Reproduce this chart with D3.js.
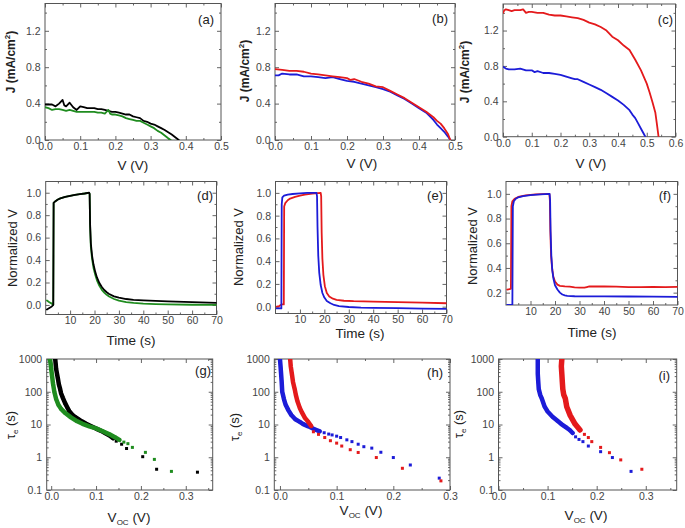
<!DOCTYPE html>
<html><head><meta charset="utf-8">
<script src="https://cdn.jsdelivr.net/npm/d3@7"></script>
<style>body{margin:0;background:#fff}svg{display:block}</style>
</head><body><svg id="c" width="685" height="528"></svg>
<script>
// ---------- DATA ----------
// (a) J-V
const aBlack = [[0,0.39],[0.01,0.39],[0.02,0.39],[0.03,0.37],[0.04,0.40],[0.05,0.44],[0.055,0.38],[0.06,0.37],[0.07,0.41],[0.08,0.36],[0.09,0.33],[0.1,0.37],[0.11,0.36],[0.12,0.35],[0.13,0.35],[0.14,0.35],[0.15,0.34],[0.16,0.34],[0.17,0.33],[0.18,0.32],[0.19,0.31],[0.2,0.31],[0.21,0.30],[0.22,0.29],[0.23,0.28],[0.24,0.28],[0.25,0.26],[0.26,0.25],[0.27,0.24],[0.28,0.21],[0.29,0.20],[0.3,0.18],[0.31,0.17],[0.32,0.15],[0.33,0.13],[0.34,0.11],[0.35,0.085],[0.36,0.06],[0.37,0.03],[0.38,0.0]];
const aGreen = [[0,0.36],[0.01,0.35],[0.02,0.33],[0.03,0.34],[0.04,0.34],[0.05,0.33],[0.06,0.32],[0.07,0.33],[0.08,0.32],[0.09,0.31],[0.1,0.31],[0.11,0.31],[0.12,0.31],[0.13,0.31],[0.14,0.31],[0.15,0.30],[0.16,0.30],[0.17,0.29],[0.18,0.33],[0.185,0.29],[0.19,0.28],[0.2,0.28],[0.21,0.27],[0.22,0.26],[0.23,0.24],[0.24,0.23],[0.25,0.22],[0.26,0.21],[0.27,0.21],[0.28,0.19],[0.29,0.17],[0.3,0.15],[0.31,0.13],[0.32,0.10],[0.33,0.08],[0.34,0.05],[0.35,0.02],[0.357,0.0]];
// (b) J-V
const bRed = [[0,0.78],[0.02,0.77],[0.04,0.76],[0.06,0.76],[0.08,0.75],[0.1,0.73],[0.12,0.72],[0.14,0.71],[0.16,0.70],[0.18,0.69],[0.2,0.68],[0.21,0.66],[0.22,0.67],[0.24,0.64],[0.26,0.62],[0.28,0.59],[0.3,0.58],[0.32,0.54],[0.34,0.50],[0.36,0.46],[0.38,0.41],[0.4,0.36],[0.42,0.31],[0.44,0.25],[0.45,0.21],[0.46,0.18],[0.47,0.13],[0.48,0.07],[0.487,0.0]];
const bBlue = [[0,0.71],[0.01,0.71],[0.02,0.73],[0.04,0.72],[0.06,0.72],[0.08,0.70],[0.1,0.70],[0.12,0.69],[0.14,0.68],[0.16,0.69],[0.18,0.67],[0.2,0.65],[0.22,0.64],[0.24,0.62],[0.26,0.60],[0.28,0.58],[0.3,0.56],[0.32,0.53],[0.34,0.49],[0.36,0.45],[0.38,0.40],[0.4,0.35],[0.42,0.30],[0.44,0.22],[0.45,0.17],[0.46,0.13],[0.47,0.09],[0.48,0.04],[0.487,0.0]];
// (c) J-V
const cRed = [[0,1.40],[0.005,1.43],[0.01,1.44],[0.02,1.43],[0.03,1.42],[0.04,1.43],[0.05,1.43],[0.06,1.43],[0.07,1.44],[0.08,1.40],[0.09,1.41],[0.1,1.41],[0.12,1.40],[0.14,1.40],[0.16,1.38],[0.18,1.37],[0.2,1.37],[0.22,1.36],[0.24,1.35],[0.26,1.34],[0.28,1.32],[0.3,1.29],[0.32,1.27],[0.34,1.24],[0.36,1.20],[0.38,1.13],[0.4,1.09],[0.42,1.03],[0.44,0.98],[0.46,0.87],[0.48,0.75],[0.5,0.60],[0.51,0.50],[0.52,0.39],[0.53,0.27],[0.535,0.15],[0.541,0.0]];
const cBlue = [[0,0.79],[0.01,0.77],[0.02,0.76],[0.04,0.76],[0.06,0.77],[0.08,0.75],[0.1,0.75],[0.11,0.73],[0.12,0.74],[0.14,0.72],[0.16,0.72],[0.18,0.71],[0.2,0.70],[0.22,0.68],[0.24,0.66],[0.25,0.65],[0.26,0.65],[0.28,0.62],[0.3,0.59],[0.32,0.56],[0.34,0.53],[0.36,0.49],[0.38,0.45],[0.4,0.41],[0.42,0.36],[0.44,0.30],[0.45,0.25],[0.46,0.21],[0.47,0.15],[0.48,0.09],[0.49,0.03],[0.495,0.0]];
// (d) transients
const dGreen = [[0.5,0.04],[1.5,0.025],[2.5,0.012],[2.9,0.004],[3.1,0.0],[3.25,0.91],[4,0.925],[5,0.94],[6,0.95],[8,0.963],[10,0.972],[12,0.98],[14,0.987],[16,0.993],[17.8,0.998],[18.0,0.99],[18.2,0.7],[18.5,0.52],[19.0,0.41],[19.6,0.33],[20.3,0.27],[21,0.22],[22,0.17],[23,0.135],[24,0.11],[25,0.09],[26,0.075],[28,0.053],[30,0.038],[33,0.026],[36,0.018],[40,0.012],[45,0.008],[50,0.005],[60,0.002],[70,0.0]];
const dBlack = [[0.5,-0.04],[1.5,-0.027],[2.5,-0.014],[2.9,-0.004],[3.1,0.0],[3.25,0.91],[4,0.925],[5,0.94],[6,0.95],[8,0.963],[10,0.972],[12,0.98],[14,0.987],[16,0.993],[17.8,1.0],[18.0,0.99],[18.2,0.72],[18.5,0.55],[19.0,0.44],[19.6,0.36],[20.3,0.295],[21,0.245],[22,0.195],[23,0.16],[24,0.133],[25,0.113],[26,0.098],[28,0.077],[30,0.065],[33,0.053],[36,0.046],[40,0.041],[45,0.036],[50,0.032],[60,0.025],[70,0.018]];
// (e) transients
const eRed = [[0.5,0.0],[1.5,0.005],[2.5,0.02],[3.4,0.02],[3.55,0.88],[4,0.91],[5,0.935],[6,0.95],[8,0.965],[10,0.975],[12,0.985],[15,0.993],[18.5,1.0],[18.7,0.97],[18.9,0.65],[19.2,0.42],[19.6,0.28],[20.2,0.18],[21,0.12],[22,0.09],[23.5,0.07],[25,0.06],[28,0.052],[32,0.048],[40,0.044],[50,0.04],[60,0.035],[70,0.03]];
const eBlue = [[0.5,-0.015],[1.5,-0.015],[2.4,-0.015],[2.55,0.9],[2.8,0.96],[3.5,0.975],[5,0.985],[7,0.99],[10,0.995],[13,1.0],[16.8,1.0],[17.0,0.97],[17.2,0.7],[17.5,0.45],[17.9,0.3],[18.5,0.19],[19.2,0.12],[20,0.08],[21,0.05],[22.5,0.03],[24,0.015],[26,0.005],[30,-0.003],[35,-0.008],[40,-0.01],[50,-0.013],[60,-0.017],[70,-0.02]];
// (f) transients
const fRed = [[0.5,0.225],[1.5,0.228],[2.0,0.232],[2.2,0.9],[2.6,0.94],[3.5,0.96],[5,0.975],[8,0.988],[12,0.995],[17.7,1.0],[17.9,0.95],[18.1,0.7],[18.4,0.5],[18.8,0.4],[19.3,0.33],[20,0.29],[21,0.265],[22,0.255],[24,0.25],[26,0.248],[28,0.243],[30,0.24],[32,0.24],[33,0.245],[34,0.25],[36,0.25],[40,0.25],[45,0.248],[50,0.245],[55,0.245],[60,0.246],[65,0.244],[70,0.247]];
const fBlue = [[0.5,0.1],[2.6,0.1],[2.8,0.9],[3.2,0.94],[4,0.96],[5,0.972],[7,0.982],[10,0.99],[14,0.995],[17.8,1.0],[18.0,0.95],[18.2,0.7],[18.5,0.5],[18.9,0.38],[19.4,0.31],[20,0.26],[21,0.225],[22,0.2],[23,0.185],[24,0.178],[25,0.174],[28,0.171],[30,0.17],[35,0.17],[40,0.17],[50,0.169],[60,0.168],[70,0.165]];
// (g) lifetime vs Voc
const gBlackDense = [[0.009,1000],[0.010,700],[0.011,500],[0.013,350],[0.015,250],[0.017,170],[0.02,120],[0.022,90],[0.026,65],[0.031,45],[0.036,33],[0.04,26],[0.047,20],[0.053,17],[0.059,15],[0.068,12.5],[0.078,10.5],[0.088,9.0],[0.1,7.5],[0.11,6.5],[0.12,5.5],[0.13,4.6],[0.138,3.8]];
const gBlackSparse = [[0.145,3.1],[0.157,2.5],[0.168,1.85],[0.204,1.04],[0.235,0.43],[0.326,0.35]];
const gGreenDense = [[-0.003,1000],[-0.001,700],[0.0,500],[0.002,300],[0.004,180],[0.007,100],[0.011,60],[0.016,40],[0.022,30],[0.032,22],[0.044,16.5],[0.058,12.5],[0.07,10.5],[0.085,8.8],[0.1,7.6],[0.115,6.2],[0.13,5.0],[0.142,4.1],[0.152,3.4]];
const gGreenSparse = [[0.162,2.9],[0.171,2.6],[0.181,2.0],[0.21,1.41],[0.23,0.86],[0.268,0.37]];
// (h)
const hBlueDense = [[0.0,1000],[0.001,600],[0.002,350],[0.003,200],[0.004,100],[0.007,60],[0.01,40],[0.015,27],[0.02,19.5],[0.027,14.5],[0.035,12],[0.041,10.3],[0.05,8.8],[0.06,7.3],[0.07,6.2]];
const hBlueSparse = [[0.078,5.6],[0.086,5.1],[0.092,4.8],[0.1,4.4],[0.107,4.0],[0.118,3.4],[0.127,3.0],[0.138,2.5],[0.148,2.1],[0.162,1.9],[0.178,1.42],[0.2,0.98],[0.23,0.58],[0.281,0.23]];
const hRedDense = [[0.018,1000],[0.019,600],[0.021,350],[0.023,200],[0.026,120],[0.028,80],[0.031,50],[0.035,32],[0.039,23],[0.044,16],[0.05,12],[0.055,9]];
const hRedSparse = [[0.059,6.0],[0.068,5.0],[0.079,4.0],[0.089,3.2],[0.1,2.7],[0.109,2.2],[0.124,1.7],[0.138,1.4],[0.17,0.98],[0.216,0.46],[0.284,0.19]];
// (i)
const iBlueDense = [[0.08,1000],[0.08,600],[0.08,350],[0.081,200],[0.082,120],[0.085,80],[0.088,63],[0.094,35],[0.1,25],[0.11,17.3],[0.12,13],[0.128,10.3],[0.137,8.3],[0.145,6.8],[0.151,5.5]];
const iBlueSparse = [[0.157,4.2],[0.164,3.5],[0.172,3.0],[0.183,2.2],[0.208,1.48],[0.232,0.98],[0.27,0.37]];
const iRedDense = [[0.129,1000],[0.128,600],[0.129,350],[0.13,200],[0.131,120],[0.133,80],[0.136,63],[0.139,35],[0.146,19],[0.156,10.3],[0.166,6.8]];
const iRedSparse = [[0.175,5.0],[0.183,4.0],[0.19,3.0],[0.208,2.0],[0.226,1.38],[0.249,0.83],[0.292,0.43]];

// tick labels
const jvYTicks = [0, 0.4, 0.8, 1.2];
const jvYMinor = [0.2, 0.6, 1.0, 1.4];
const jvXTicks5 = [0, 0.1, 0.2, 0.3, 0.4, 0.5];
const jvXTicks6 = [0, 0.1, 0.2, 0.3, 0.4, 0.5, 0.6];
const timeTicks = [10, 20, 30, 40, 50, 60, 70];
const timeMinor = [5, 15, 25, 35, 45, 55, 65];
const normTicks = [0, 0.2, 0.4, 0.6, 0.8, 1.0];
const normTicksF = [0.2, 0.4, 0.6, 0.8, 1.0];
const vocTicks = [0, 0.1, 0.2, 0.3];
const tauTicks = [0.1, 1, 10, 100, 1000];

// ---------- DRAW ----------
const FONT = '"Liberation Sans", Arial, Helvetica, sans-serif';
const RED = "#e41a1c", BLUE = "#1c1cd8", GREEN = "#1f8c1f", BLACK = "#000";
const svg = d3.select("#c");
const f1 = d3.format(".1f");
const range = (a,b,s) => d3.range(a, b + s/2, s).map(v => +v.toFixed(4));

function panel(o) {
  const x = d3.scaleLinear().domain(o.xd).range([o.l, o.r]);
  const y = (o.ylog ? d3.scaleLog() : d3.scaleLinear()).domain(o.yd).range([o.b, o.t]);
  const g = svg.append("g");
  const cid = "clip-" + o.id;
  g.append("clipPath").attr("id", cid).append("rect")
    .attr("x", o.l).attr("y", o.t).attr("width", o.r - o.l).attr("height", o.b - o.t);
  const mk = (gen, tr, vals, size, fmt, pad) => {
    const a = gen.tickValues(vals).tickSize(size).tickPadding(pad || 3).tickFormat(fmt || (() => ""));
    const s = g.append("g").attr("transform", tr).call(a);
    s.select(".domain").remove();
    s.selectAll("line").attr("stroke", "#666").attr("stroke-width", 1);
    s.selectAll("text").attr("fill", "#444").style("font-size", "10.5px").style("font-family", FONT);
    return s;
  };
  mk(d3.axisBottom(x), `translate(0,${o.b})`, o.xt, -4, o.xf, 2.5);
  mk(d3.axisBottom(x), `translate(0,${o.b})`, o.xm, -2);
  mk(d3.axisTop(x), `translate(0,${o.t})`, o.xt, -4);
  mk(d3.axisTop(x), `translate(0,${o.t})`, o.xm, -2);
  mk(d3.axisLeft(y), `translate(${o.l},0)`, o.yt, -4, o.yf, 4.5);
  mk(d3.axisLeft(y), `translate(${o.l},0)`, o.ym, -2);
  mk(d3.axisRight(y), `translate(${o.r},0)`, o.yt, -4);
  mk(d3.axisRight(y), `translate(${o.r},0)`, o.ym, -2);
  g.append("rect").attr("x", o.l).attr("y", o.t).attr("width", o.r - o.l).attr("height", o.b - o.t)
    .attr("fill", "none").attr("stroke", "#555").attr("stroke-width", 1);
  const plot = g.append("g").attr("clip-path", `url(#${cid})`);
  g.append("text").attr("x", o.lab[0]).attr("y", o.lab[1]).attr("text-anchor", "end")
    .style("font-family", FONT).style("font-size", "13px").attr("fill", "#222").text(o.name);
  return { x, y, g, plot };
}

function line(p, data, color, w) {
  p.plot.append("path").datum(data)
    .attr("d", d3.line().x(d => p.x(d[0])).y(d => p.y(d[1])))
    .attr("fill", "none").attr("stroke", color).attr("stroke-width", w || 1.8)
    .attr("stroke-linejoin", "round").attr("stroke-linecap", "round");
}
function squares(p, data, color, s) {
  p.plot.append("g").selectAll("rect").data(data).enter().append("rect")
    .attr("x", d => p.x(d[0]) - s / 2).attr("y", d => p.y(d[1]) - s / 2)
    .attr("width", s).attr("height", s).attr("fill", color);
}

function yLabel(x, y, build, size, weight) {
  const t = svg.append("text").attr("transform", `translate(${x},${y}) rotate(-90)`)
    .attr("text-anchor", "middle").style("font-family", FONT)
    .style("font-size", size + "px").style("font-weight", weight || "normal").attr("fill", "#222");
  build(t);
}
function xLabel(x, y, build) {
  const t = svg.append("text").attr("x", x).attr("y", y).attr("text-anchor", "middle")
    .style("font-family", FONT).style("font-size", "13.5px").attr("fill", "#222");
  build(t);
}
const jLab = t => { t.append("tspan").text("J (mA/cm"); t.append("tspan").attr("dy", -5).style("font-size", "8px").text("2"); t.append("tspan").attr("dy", 5).text(")"); };
const nLab = t => t.text("Normalized V");
const tauLab = t => { t.append("tspan").text("τ"); t.append("tspan").attr("dy", 3).style("font-size", "8px").text("e"); t.append("tspan").attr("dy", -3).text(" (s)"); };
const vLab = t => t.text("V (V)");
const timeLab = t => t.text("Time (s)");
const vocLab = t => { t.append("tspan").text("V"); t.append("tspan").attr("dy", 3).style("font-size", "8px").text("OC"); t.append("tspan").attr("dy", -3).text(" (V)"); };

const logFmt = d => d < 1 ? "0.1" : String(d);
const logMinor = [];
[0.1, 1, 10, 100].forEach(dec => { for (let k = 2; k <= 9; k++) logMinor.push(+(dec * k).toFixed(3)); });

// Row 1
const pa = panel({ id: "a", name: "(a)", lab: [214, 24], l: 45, r: 221, t: 3.5, b: 140, xd: [0, 0.5], yd: [0, 1.5],
  xt: jvXTicks5, xm: range(0.05, 0.45, 0.1), xf: f1, yt: jvYTicks, ym: jvYMinor, yf: f1 });
line(pa, aBlack, BLACK); line(pa, aGreen, GREEN);
const pb = panel({ id: "b", name: "(b)", lab: [448, 23], l: 275, r: 455, t: 3.5, b: 140, xd: [0, 0.5], yd: [0, 1.5],
  xt: jvXTicks5, xm: range(0.05, 0.45, 0.1), xf: f1, yt: jvYTicks, ym: jvYMinor, yf: f1 });
line(pb, bBlue, BLUE); line(pb, bRed, RED);
const pc = panel({ id: "c", name: "(c)", lab: [673, 24], l: 503, r: 675.5, t: 4, b: 136.7, xd: [0, 0.6], yd: [0, 1.5],
  xt: jvXTicks6, xm: range(0.05, 0.55, 0.1), xf: f1, yt: jvYTicks, ym: jvYMinor, yf: f1 });
line(pc, cBlue, BLUE); line(pc, cRed, RED);

// Row 2
const pd = panel({ id: "d", name: "(d)", lab: [213, 200], l: 45.7, r: 216.5, t: 181.5, b: 314.5, xd: [0, 70], yd: [-0.085, 1.1],
  xt: timeTicks, xm: timeMinor, xf: d3.format("d"), yt: normTicks, ym: range(0.1, 0.9, 0.2), yf: f1 });
line(pd, dGreen, GREEN); line(pd, dBlack, BLACK);
const pe = panel({ id: "e", name: "(e)", lab: [443, 200], l: 275.5, r: 446.5, t: 181.5, b: 313.5, xd: [0, 70], yd: [-0.06, 1.1],
  xt: timeTicks, xm: timeMinor, xf: d3.format("d"), yt: normTicks, ym: range(0.1, 0.9, 0.2), yf: f1 });
line(pe, eRed, RED); line(pe, eBlue, BLUE);
const pf = panel({ id: "f", name: "(f)", lab: [671, 200], l: 506, r: 677.5, t: 181.5, b: 305, xd: [0, 70], yd: [0.1, 1.1],
  xt: timeTicks, xm: timeMinor, xf: d3.format("d"), yt: normTicksF, ym: [0.3, 0.5, 0.7, 0.9], yf: f1 });
line(pf, fRed, RED); line(pf, fBlue, BLUE);

// Row 3
const pg = panel({ id: "g", name: "(g)", lab: [211, 375], l: 46.7, r: 212.7, t: 359, b: 490, xd: [-0.01, 0.36], yd: [0.1, 1000], ylog: true,
  xt: vocTicks, xm: [0.05, 0.15, 0.25, 0.35], xf: f1, yt: tauTicks, ym: logMinor, yf: logFmt });
line(pg, gBlackDense, BLACK, 4.5); squares(pg, gBlackDense, BLACK, 3); squares(pg, gBlackSparse, BLACK, 3);
line(pg, gGreenDense, GREEN, 4.5); squares(pg, gGreenDense, GREEN, 3); squares(pg, gGreenSparse, GREEN, 3);
const ph = panel({ id: "h", name: "(h)", lab: [443, 377], l: 274.3, r: 450, t: 359, b: 490, xd: [-0.01, 0.3], yd: [0.1, 1000], ylog: true,
  xt: vocTicks, xm: [0.05, 0.15, 0.25], xf: f1, yt: tauTicks, ym: logMinor, yf: logFmt });
line(ph, hBlueDense, BLUE, 4.5); squares(ph, hBlueDense, BLUE, 3); squares(ph, hBlueSparse, BLUE, 3);
line(ph, hRedDense, RED, 4.5); squares(ph, hRedDense, RED, 3); squares(ph, hRedSparse, RED, 3);
const pi = panel({ id: "i", name: "(i)", lab: [670, 380], l: 498.5, r: 676.7, t: 359, b: 490, xd: [0, 0.363], yd: [0.1, 1000], ylog: true,
  xt: vocTicks, xm: [0.05, 0.15, 0.25, 0.35], xf: f1, yt: tauTicks, ym: logMinor, yf: logFmt });
line(pi, iBlueDense, BLUE, 4.5); squares(pi, iBlueDense, BLUE, 3); squares(pi, iBlueSparse, BLUE, 3);
line(pi, iRedDense, RED, 5.5); squares(pi, iRedDense, RED, 3); squares(pi, iRedSparse, RED, 3);

// Axis titles
yLabel(15, 62, jLab, 12, "bold"); yLabel(249, 71, jLab, 12, "bold"); yLabel(469, 72, jLab, 12, "bold");
xLabel(133, 170, vLab); xLabel(362, 168, vLab); xLabel(591, 168, vLab);
yLabel(17, 248, nLab, 13); yLabel(243, 247, nLab, 13); yLabel(477, 246, nLab, 13);
xLabel(131, 345, timeLab); xLabel(360, 338, timeLab); xLabel(592, 337, timeLab);
yLabel(15, 425, tauLab, 13); yLabel(239, 427, tauLab, 13); yLabel(463, 424, tauLab, 13);
xLabel(129, 522, vocLab); xLabel(361, 515, vocLab); xLabel(586, 520, vocLab);
</script></body></html>
